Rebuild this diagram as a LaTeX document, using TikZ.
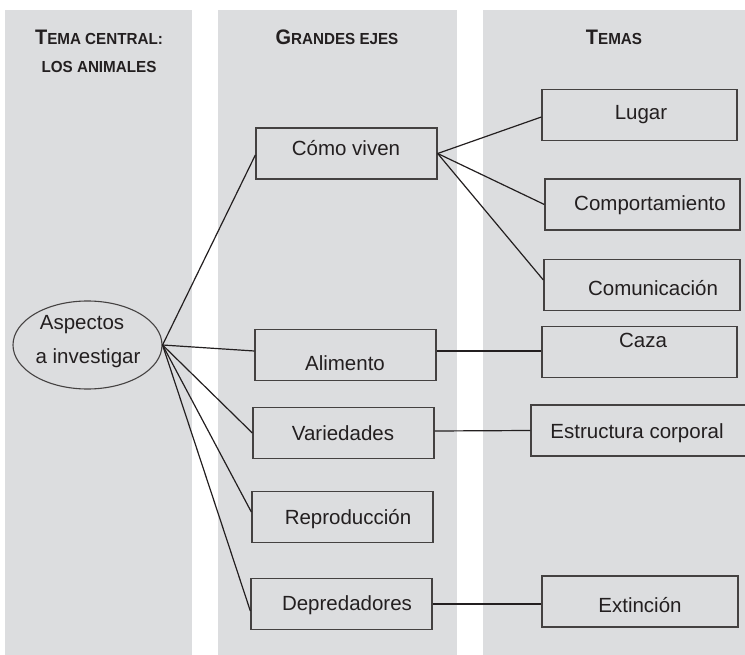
\documentclass[tikz,border=0pt]{standalone}
\usepackage{fontspec}
\setmainfont{Liberation Sans}
\newfontfamily\hdrfont{Liberation Sans}[FakeStretch=0.95]
\usetikzlibrary{shapes.geometric}
\definecolor{colgray}{HTML}{DCDDDF}
\definecolor{ink}{HTML}{231F20}
\newcommand{\hcap}[2]{{\fontsize{21}{24}\selectfont #1}{\fontsize{16}{19}\selectfont #2}}
\tikzset{
  colbg/.style={fill=colgray, draw=none},
  box/.style={draw=ink!85, line width=1.3pt, rectangle, inner sep=0pt, minimum height=51},
  lbl/.style={text=ink, font=\fontsize{20.5}{23}\selectfont, inner sep=0pt, anchor=center},
  hdr/.style={text=ink, font=\hdrfont\bfseries, inner sep=0pt, anchor=center},
  conn/.style={draw=ink, line width=1.2pt}
}
\begin{document}
\begin{tikzpicture}[x=1pt, y=-1pt]
\useasboundingbox (0,0) rectangle (745,655);
% columns
\fill[colgray] (5,10) rectangle (192,655);
\fill[colgray] (218,10) rectangle (457,655);
\fill[colgray] (483,10) rectangle (745,655);
% headers
\node[hdr] (h1a) at (99,37) {\hcap{T}{EMA CENTRAL:}};
\node[hdr] (h1b) at (99,67) {\hcap{}{LOS ANIMALES}};
\node[hdr] (h2) at (337,37) {\hcap{G}{RANDES EJES}};
\node[hdr] (h3) at (614,37) {\hcap{T}{EMAS}};
% central ellipse
\node[ellipse, draw=ink!85, line width=1.1pt, minimum width=149, minimum height=88, inner sep=0pt] (asp) at (87.5,345) {};
\node[lbl] (asp-t1) at (82,325) {Aspectos};
\node[lbl] (asp-t2) at (88,358) {a investigar};
% axes boxes
\node[box, minimum width=181] (como) at (346.5,153.5) {};
\node[lbl] (como-t) at (346,148) {Cómo viven};
\node[box, minimum width=181] (alim) at (345.5,355) {};
\node[lbl] (alim-t) at (345,363) {Alimento};
\node[box, minimum width=181] (vari) at (343.5,433) {};
\node[lbl] (vari-t) at (343,433) {Variedades};
\node[box, minimum width=181] (repr) at (342.5,517) {};
\node[lbl] (repr-t) at (348,519) {Reproducción};
\node[box, minimum width=181] (depr) at (341.5,604) {};
\node[lbl] (depr-t) at (347,605) {Depredadores};
% topic boxes
\node[box, minimum width=195] (lugar) at (639.5,115) {};
\node[lbl] (lugar-t) at (641,115) {Lugar};
\node[box, minimum width=195] (comp) at (642.5,204.5) {};
\node[lbl] (comp-t) at (650,205) {Comportamiento};
\node[box, minimum width=196] (comu) at (642,285) {};
\node[lbl] (comu-t) at (653,288) {Comunicación};
\node[box, minimum width=195] (caza) at (639.5,352) {};
\node[lbl] (caza-t) at (643,340) {Caza};
\node[box, minimum width=222] (estr) at (642,430.5) {};
\node[lbl] (estr-t) at (637,433) {Estructura corporal};
\node[box, minimum width=196] (ext) at (640,601.5) {};
\node[lbl] (ext-t) at (640,605) {Extinción};
% connectors
\draw[conn] (asp.east) -- ([yshift=-1.5]como.west);
\draw[conn] (asp.east) -- ([yshift=4]alim.west);
\draw[conn] (asp.east) -- (vari.west);
\draw[conn] (asp.east) -- ([yshift=5]repr.west);
\draw[conn] (asp.east) -- ([yshift=-7]depr.west);
\draw[conn] (como.east) -- ([yshift=-2]lugar.west);
\draw[conn] (como.east) -- (comp.west);
\draw[conn] (como.east) -- ([yshift=5]comu.west);
\draw[conn] ([yshift=4]alim.east) -- ([yshift=1]caza.west);
\draw[conn] ([yshift=2]vari.east) -- (estr.west);
\draw[conn] (depr.east) -- ([yshift=-2.5]ext.west);
\end{tikzpicture}
\end{document}
